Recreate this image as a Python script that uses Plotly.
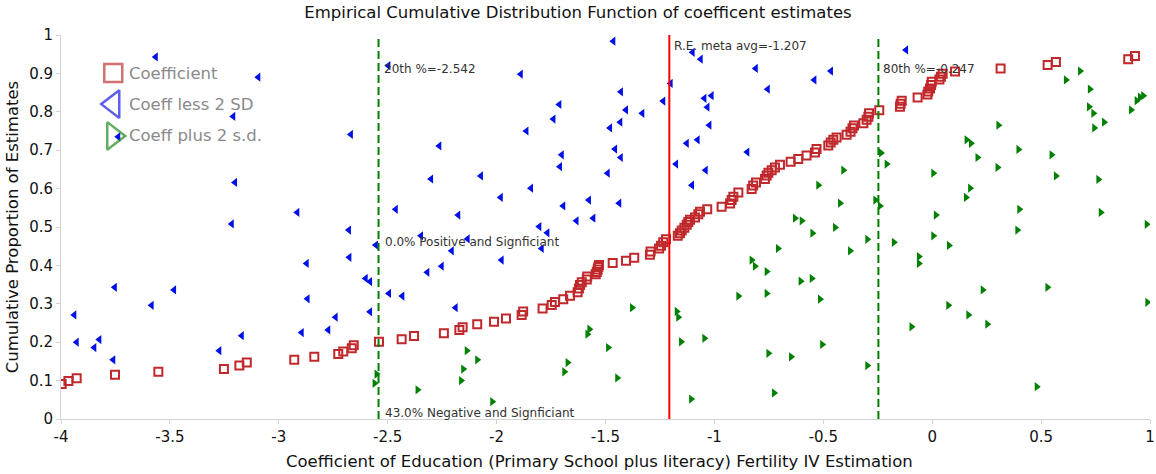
import plotly.graph_objects as go

# Coefficient estimates (sorted) and their empirical cumulative proportions
coef_x = [-3.997, -3.966, -3.928, -3.752, -3.553, -3.252, -3.181, -3.147, -2.929, -2.837,
          -2.727, -2.704, -2.665, -2.656, -2.540, -2.436, -2.379, -2.242, -2.171, -2.156,
          -2.089, -2.012, -1.957, -1.885, -1.878, -1.789, -1.747, -1.732, -1.694, -1.663,
          -1.628, -1.622, -1.617, -1.609, -1.586, -1.584, -1.545, -1.540, -1.536, -1.533,
          -1.530, -1.467, -1.406, -1.368, -1.296, -1.293, -1.254, -1.245, -1.235, -1.222,
          -1.168, -1.158, -1.150, -1.138, -1.127, -1.120, -1.112, -1.089, -1.074, -1.066,
          -1.033, -0.967, -0.928, -0.921, -0.913, -0.890, -0.829, -0.822, -0.809, -0.768,
          -0.760, -0.752, -0.737, -0.722, -0.699, -0.650, -0.615, -0.577, -0.538, -0.531,
          -0.477, -0.466, -0.454, -0.439, -0.393, -0.375, -0.366, -0.359, -0.316, -0.301,
          -0.293, -0.290, -0.243, -0.148, -0.145, -0.140, -0.067, -0.022, -0.018, -0.010,
          -0.005, -0.002, 0.033, 0.040, 0.048, 0.105, 0.314, 0.530, 0.568, 0.900, 0.931]
coef_y = [0.091, 0.099, 0.106, 0.115, 0.123, 0.130, 0.139, 0.147, 0.154, 0.162,
          0.169, 0.176, 0.184, 0.192, 0.201, 0.208, 0.216, 0.223, 0.232, 0.239,
          0.247, 0.253, 0.262, 0.271, 0.280, 0.288, 0.297, 0.305, 0.312, 0.321,
          0.330, 0.340, 0.349, 0.356, 0.363, 0.371, 0.377, 0.383, 0.389, 0.396,
          0.401, 0.406, 0.412, 0.420, 0.428, 0.436, 0.444, 0.451, 0.460, 0.468,
          0.477, 0.484, 0.491, 0.498, 0.506, 0.513, 0.519, 0.525, 0.533, 0.540,
          0.546, 0.553, 0.561, 0.570, 0.579, 0.590, 0.599, 0.608, 0.616, 0.625,
          0.634, 0.641, 0.648, 0.655, 0.662, 0.670, 0.677, 0.686, 0.694, 0.703,
          0.712, 0.720, 0.727, 0.733, 0.740, 0.748, 0.757, 0.764, 0.770, 0.779,
          0.787, 0.796, 0.804, 0.813, 0.821, 0.829, 0.837, 0.845, 0.853, 0.861,
          0.870, 0.878, 0.884, 0.891, 0.899, 0.905, 0.913, 0.922, 0.930, 0.937, 0.945]

# Coefficient minus two standard deviations
lo_x = [-3.565, -3.094, -3.209, -2.669, -3.737, -2.497, -1.464, -1.889, -1.100, -1.063,
        -0.810, -0.755, -1.201, -1.429, -1.235, -1.013, -1.046, -1.032, -1.712, -1.406,
        -1.331, -1.739, -1.432, -1.479, -1.023, -1.863, -2.263, -1.127, -1.077, -0.849,
        -1.456, -1.701, -1.430, -0.120, -0.465, -0.541, -1.709, -1.490, -1.176, -1.040,
        -1.103, -2.301, -2.072, -1.842, -1.981, -1.694, -1.576, -1.437, -2.463, -2.176,
        -1.633, -1.556, -1.804, -1.767, -2.347, -2.133, -2.554, -1.793, -2.206, -1.977,
        -2.252, -2.318, -2.494, -2.433, -2.188, -3.201, -2.915, -3.216, -2.678, -2.872,
        -2.676, -2.601, -2.581, -3.753, -3.481, -3.584, -2.868, -3.939, -2.739, -2.581,
        -3.928, -3.847, -3.824, -3.760, -3.273, -3.170, -2.895, -2.773]
lo_y = [0.943, 0.890, 0.788, 0.741, 0.735, 0.920, 0.984, 0.898, 0.955, 0.937,
        0.913, 0.859, 0.874, 0.852, 0.828, 0.842, 0.835, 0.812, 0.819, 0.805,
        0.796, 0.781, 0.773, 0.758, 0.765, 0.750, 0.711, 0.718, 0.727, 0.695,
        0.703, 0.688, 0.681, 0.961, 0.906, 0.883, 0.657, 0.640, 0.664, 0.648,
        0.609, 0.625, 0.633, 0.601, 0.577, 0.555, 0.570, 0.562, 0.546, 0.531,
        0.516, 0.523, 0.501, 0.485, 0.477, 0.469, 0.453, 0.444, 0.438, 0.414,
        0.398, 0.382, 0.327, 0.320, 0.290, 0.616, 0.538, 0.508, 0.492, 0.405,
        0.421, 0.366, 0.358, 0.343, 0.336, 0.296, 0.313, 0.271, 0.265, 0.279,
        0.200, 0.186, 0.207, 0.154, 0.178, 0.217, 0.225, 0.232]

# Coefficient plus two standard deviations
hi_x = [0.679, 0.614, 0.724, 0.720, 0.740, 0.789, 0.744, 0.913, 0.939, 0.954,
        0.969, 0.304, 0.158, 0.178, 0.396, 0.548, 0.208, -0.235, -0.408, -0.209,
        0.005, 0.300, 0.568, 0.763, -0.523, 0.174, 0.155, -0.423, -0.261, -0.240,
        0.400, 0.774, 0.017, -0.630, -0.599, -0.446, -0.550, 0.985, 0.391, -0.298,
        0.005, -0.176, 0.077, -0.708, -0.377, -0.061, -0.061, -0.604, -0.553, -0.515,
        0.232, 0.529, 0.074, 0.166, 0.988, 0.253, -0.095, -0.505, -0.648, -0.298,
        -0.726, 0.480, -2.551, -2.560, -2.137, -2.089, -2.153, -2.163, -2.363, -2.020,
        -1.574, -1.583, -1.488, -1.674, -1.689, -1.446, -1.378, -1.173, -1.166, -1.153,
        -1.046, -1.107, -0.752, -0.829, -0.814, -0.760, -0.890, -0.760]
hi_y = [0.906, 0.883, 0.859, 0.813, 0.796, 0.773, 0.758, 0.805, 0.829, 0.838,
        0.842, 0.765, 0.727, 0.718, 0.702, 0.688, 0.681, 0.693, 0.648, 0.664,
        0.640, 0.655, 0.633, 0.624, 0.609, 0.601, 0.577, 0.562, 0.570, 0.555,
        0.546, 0.538, 0.531, 0.523, 0.516, 0.499, 0.484, 0.507, 0.492, 0.468,
        0.477, 0.460, 0.452, 0.444, 0.438, 0.423, 0.405, 0.359, 0.366, 0.312,
        0.336, 0.343, 0.296, 0.271, 0.304, 0.247, 0.240, 0.194, 0.162, 0.139,
        0.068, 0.084, 0.117, 0.093, 0.178, 0.154, 0.130, 0.100, 0.076, 0.045,
        0.234, 0.221, 0.186, 0.147, 0.123, 0.107, 0.290, 0.280, 0.265, 0.201,
        0.210, 0.052, 0.171, 0.414, 0.398, 0.384, 0.320, 0.327]

# Summary statistics
meta_avg = -1.207
pct20 = -2.542
pct80 = -0.247
pos_sig_pct = 0.0
neg_sig_pct = 43.0

x_ticks = [-4, -3.5, -3, -2.5, -2, -1.5, -1, -0.5, 0, 0.5, 1]
x_tick_labels = ["-4", "-3.5", "-3", "-2.5", "-2", "-1.5", "-1", "-0.5", "0", "0.5", "1"]
y_ticks = [0, 0.1, 0.2, 0.3, 0.4, 0.5, 0.6, 0.7, 0.8, 0.9, 1]
y_tick_labels = ["0", "0.1", "0.2", "0.3", "0.4", "0.5", "0.6", "0.7", "0.8", "0.9", "1"]

legend_names = ["Coefficient", "Coeff less 2 SD", "Coeff plus 2 s.d."]
x_title = "Coefficient of Education (Primary School plus literacy) Fertility IV Estimation"
y_title = "Cumulative Proportion of Estimates"

RED = "#c0282c"
BLUE = "#0010e6"
GREEN = "#008000"
FONT = "DejaVu Sans"

fig = go.Figure()

fig.add_trace(go.Scatter(
    x=lo_x, y=lo_y, mode="markers", name=legend_names[1], showlegend=False,
    marker=dict(symbol="triangle-left", size=8, color=BLUE, line=dict(width=0)),
))
fig.add_trace(go.Scatter(
    x=hi_x, y=hi_y, mode="markers", name=legend_names[2], showlegend=False,
    marker=dict(symbol="triangle-right", size=8, color=GREEN, line=dict(width=0)),
))
fig.add_trace(go.Scatter(
    x=coef_x, y=coef_y, mode="markers", name=legend_names[0], showlegend=False,
    marker=dict(symbol="square-open", size=8, color=RED, line=dict(width=2, color=RED)),
))

# Custom legend keys on an overlay axis spanning the plot area
leg_x = 0.048
leg_rows = [0.901, 0.820, 0.737]
leg_colors = ["#c03434", "#1a1ae0", "#1f8a1f"]
fig.add_trace(go.Scatter(
    x=[leg_x] * 3, y=leg_rows, xaxis="x2", yaxis="y2", mode="markers",
    showlegend=False, hoverinfo="skip", cliponaxis=False,
    marker=dict(
        symbol=["square-open", "triangle-left-open", "triangle-right-open"],
        size=[18, 24, 24],
        color=leg_colors,
        line=dict(width=2.5, color=leg_colors),
    ),
))

annotations = []
for name, yy in zip(legend_names, leg_rows):
    annotations.append(dict(
        x=leg_x + 0.0125, y=yy, xref="x2", yref="y2", text=name, showarrow=False,
        xanchor="left", yanchor="middle", font=dict(family=FONT, size=16.5, color="#8a8a8a"),
    ))

label_font = dict(family=FONT, size=12, color="#333333")
annotations += [
    dict(x=pct20, y=0.911, text=f"20th %={pct20:.3f}", showarrow=False, xanchor="left",
         yanchor="middle", xshift=3, font=label_font),
    dict(x=meta_avg, y=0.971, text=f"R.E. meta avg={meta_avg:.3f}", showarrow=False,
         xanchor="left", yanchor="middle", xshift=3, font=label_font),
    dict(x=pct80, y=0.911, text=f"80th %={pct80:.3f}", showarrow=False, xanchor="left",
         yanchor="middle", xshift=3, font=label_font),
    dict(x=pct20, y=0.461, text=f"{pos_sig_pct:.1f}% Positive and Signficiant", showarrow=False,
         xanchor="left", yanchor="middle", xshift=4, font=label_font),
    dict(x=pct20, y=0.016, text=f"{neg_sig_pct:.1f}% Negative and Signficiant", showarrow=False,
         xanchor="left", yanchor="middle", xshift=4, font=label_font),
    # x-axis title, placed as an annotation so it can sit slightly left of centre
    dict(x=0.5, y=0, xref="paper", yref="paper", text=x_title, showarrow=False,
         xanchor="center", yanchor="middle", xshift=-6, yshift=-42,
         font=dict(family=FONT, size=16.5, color="#111111")),
]

shapes = [
    dict(type="line", x0=meta_avg, x1=meta_avg, y0=0, y1=1, xref="x", yref="y",
         line=dict(color="#ff0000", width=2), layer="above"),
    dict(type="line", x0=pct20, x1=pct20, y0=0, y1=1, xref="x", yref="y",
         line=dict(color=GREEN, width=2, dash="8px,4px"), layer="above"),
    dict(type="line", x0=pct80, x1=pct80, y0=0, y1=1, xref="x", yref="y",
         line=dict(color=GREEN, width=2, dash="8px,4px"), layer="above"),
]

axis_common = dict(
    showgrid=False, zeroline=False, showline=True, linecolor="#d4d4d4", linewidth=1,
    ticks="outside", ticklen=4, tickcolor="#d4d4d4", automargin=False,
    tickfont=dict(family=FONT, size=15, color="#111111"),
)

fig.update_layout(
    width=1156, height=474,
    margin=dict(l=61, r=6, t=35, b=55),
    paper_bgcolor="white", plot_bgcolor="white",
    font=dict(family=FONT, color="#111111"),
    title=dict(
        text="Empirical Cumulative Distribution Function of coefficent estimates",
        x=0.5, xanchor="center", y=0.975, yanchor="middle",
        font=dict(family=FONT, size=16.5, color="#111111"),
    ),
    xaxis=dict(range=[-4, 1], tickvals=x_ticks, ticktext=x_tick_labels, **axis_common),
    yaxis=dict(
        range=[0, 1], tickvals=y_ticks, ticktext=y_tick_labels,
        title=dict(text=y_title, font=dict(family=FONT, size=16.5, color="#111111"), standoff=6),
        **axis_common,
    ),
    xaxis2=dict(overlaying="x", range=[0, 1], visible=False, fixedrange=True),
    yaxis2=dict(overlaying="y", range=[0, 1], visible=False, fixedrange=True),
    annotations=annotations,
    shapes=shapes,
    showlegend=False,
)

fig.write_html("out.html")
